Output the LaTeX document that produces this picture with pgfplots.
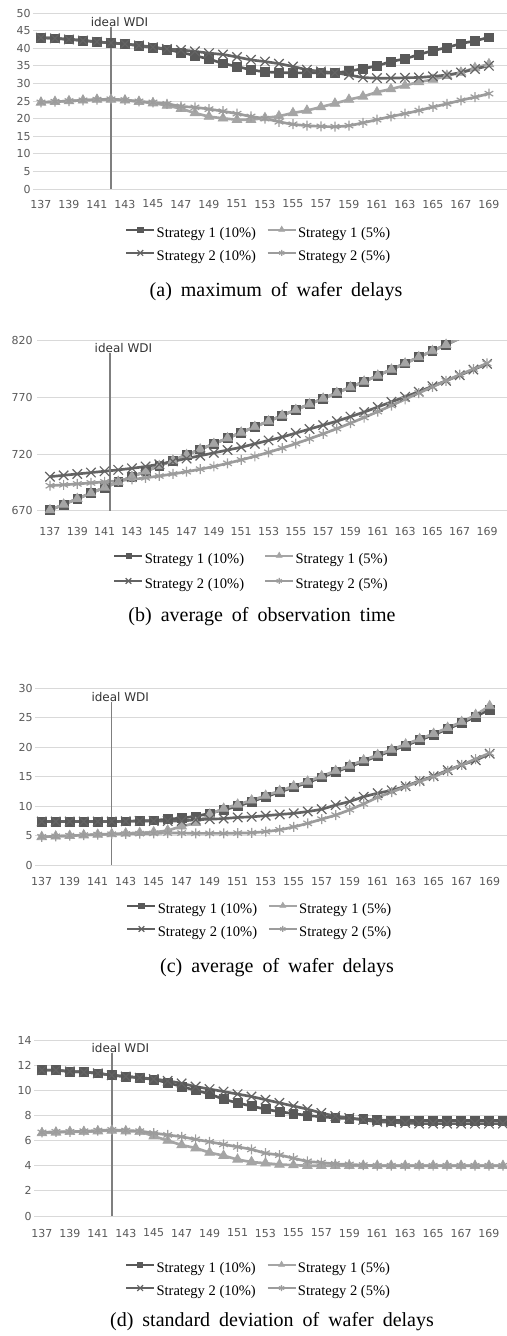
\documentclass[border=0pt]{standalone}
\usepackage{fontspec}
\setmainfont{Liberation Serif}
\newfontfamily\tickfont{DejaVu Sans}
\usepackage{pgfplots}
\usepackage{pgfplotstable}
\pgfplotsset{compat=1.18}

\definecolor{cdark}{HTML}{595959}
\definecolor{clight}{HTML}{A5A5A5}
\definecolor{ccross}{HTML}{636363}
\definecolor{cstar}{HTML}{9C9C9C}
\definecolor{gridc}{HTML}{D9D9D9}
\definecolor{tickc}{HTML}{595959}
\definecolor{idealc}{HTML}{7F7F7F}

% columns: c, strategy 1 (10%), strategy 1 (5%), strategy 2 (10%), strategy 2 (5%)
\pgfplotstableread{
c   sa    sb    sc    sd
137 43.0 24.6 43.0 24.6
138 42.8 24.8 42.8 24.8
139 42.5 25.0 42.5 25.0
140 42.2 25.2 42.2 25.2
141 41.8 25.4 41.8 25.4
142 41.5 25.4 41.5 25.5
143 41.2 25.2 41.2 25.3
144 40.7 24.8 40.8 24.9
145 40.2 24.4 40.3 24.6
146 39.6 23.7 39.8 24.2
147 38.8 22.8 39.5 23.5
148 37.9 21.6 39.1 23.2
149 36.9 20.6 38.6 22.7
150 35.7 20.1 38.2 22.1
151 34.8 19.7 37.5 21.4
152 33.9 19.7 36.7 20.6
153 33.3 20.2 36.2 20.0
154 33.1 20.7 35.6 19.1
155 33.0 21.6 34.8 18.4
156 33.0 22.3 33.9 18.0
157 33.0 23.3 33.4 17.8
158 33.0 24.3 33.0 17.7
159 33.5 25.4 32.4 18.0
160 34.2 26.3 31.7 18.8
161 35.0 27.5 31.5 19.7
162 36.2 28.4 31.5 20.6
163 37.0 29.4 31.6 21.4
164 38.2 30.4 31.7 22.3
165 39.3 31.1 32.0 23.3
166 40.2 32.2 32.4 24.2
167 41.3 33.1 33.1 25.2
168 42.1 34.4 34.1 26.1
169 43.1 35.5 35.0 27.1
}\dataA

\pgfplotstableread{
c   sa    sb    sc    sd
137 670.5 670.5 700.0 692.0
138 675.5 675.5 701.2 692.8
139 680.5 680.5 702.4 693.6
140 685.5 685.5 703.6 694.5
141 690.5 690.5 704.8 695.4
142 695.3 695.3 706.0 696.4
143 700.0 700.0 707.4 697.6
144 704.7 704.7 709.0 699.0
145 709.5 709.5 711.0 700.6
146 714.3 714.3 713.5 702.4
147 719.2 719.2 716.0 704.4
148 724.1 724.1 718.5 706.6
149 729.0 729.0 721.0 709.0
150 734.0 734.0 723.5 711.8
151 739.0 739.0 726.0 714.8
152 744.0 744.0 729.0 718.0
153 749.0 749.0 732.0 721.5
154 754.0 754.0 735.0 725.2
155 759.0 759.0 738.5 729.2
156 764.0 764.0 742.0 733.4
157 769.0 769.0 745.5 737.8
158 774.0 774.0 749.0 742.4
159 779.0 779.0 753.0 747.2
160 784.0 784.0 757.0 752.2
161 789.3 789.3 761.5 757.4
162 794.6 794.6 766.0 762.8
163 800.0 800.0 770.5 768.3
164 805.5 805.5 775.0 773.8
165 811.0 811.0 779.8 779.2
166 816.5 816.5 784.6 784.6
167 822.0 822.0 789.5 790.0
168 827.5 827.5 794.5 795.0
169 833.0 833.0 799.5 800.0
}\dataB

\pgfplotstableread{
c   sa    sb    sc    sd
137 7.4  4.8  7.4  4.8
138 7.4  4.9  7.4  4.9
139 7.4  5.0  7.4  5.0
140 7.4  5.1  7.4  5.1
141 7.4  5.2  7.4  5.2
142 7.4  5.3  7.4  5.25
143 7.45 5.4  7.45 5.3
144 7.5  5.5  7.5  5.35
145 7.6  5.6  7.5  5.4
146 7.8  5.9  7.5  5.45
147 8.0  6.6  7.5  5.45
148 8.3  7.2  7.7  5.4
149 8.8  8.6  7.8  5.4
150 9.4  9.6  7.9  5.4
151 10.0 10.3 8.1  5.45
152 10.8 11.0 8.2  5.5
153 11.6 11.8 8.4  5.7
154 12.4 12.6 8.6  6.0
155 13.2 13.4 8.8  6.5
156 14.0 14.2 9.1  7.1
157 14.9 15.1 9.5  7.8
158 15.8 16.0 10.2 8.5
159 16.7 16.9 10.8 9.4
160 17.6 17.8 11.6 10.4
161 18.5 18.7 12.2 11.5
162 19.4 19.6 12.7 12.4
163 20.3 20.5 13.4 13.3
164 21.2 21.4 14.3 14.2
165 22.1 22.3 15.1 15.0
166 23.1 23.3 16.1 16.0
167 24.1 24.3 17.0 17.0
168 25.2 25.5 17.8 18.0
169 26.4 27.0 18.9 19.0
}\dataC

\pgfplotstableread{
c   sa    sb    sc    sd
137 11.6  6.6  11.6  6.65
138 11.6  6.65 11.6  6.7
139 11.5  6.7  11.5  6.7
140 11.45 6.7  11.45 6.75
141 11.35 6.75 11.35 6.8
142 11.2  6.8  11.2  6.85
143 11.1  6.75 11.1  6.8
144 11.0  6.7  11.0  6.75
145 10.85 6.35 10.9  6.6
146 10.6  6.0  10.75 6.45
147 10.3  5.65 10.55 6.3
148 10.0  5.4  10.3  6.1
149 9.7   5.05 10.1  5.9
150 9.3   4.8  9.9   5.7
151 9.0   4.5  9.7   5.5
152 8.75  4.3  9.5   5.3
153 8.5   4.2  9.25  5.0
154 8.3   4.1  9.0   4.85
155 8.15  4.05 8.75  4.6
156 8.0   4.0  8.5   4.35
157 7.9   4.0  8.2   4.25
158 7.8   4.0  7.95  4.15
159 7.75  4.0  7.8   4.1
160 7.7   4.0  7.65  4.05
161 7.65  4.0  7.5   4.0
162 7.6   4.0  7.45  4.0
163 7.6   4.0  7.4   4.0
164 7.6   4.0  7.35  4.0
165 7.6   4.0  7.35  4.0
166 7.6   4.0  7.35  4.0
167 7.6   4.0  7.35  4.0
168 7.6   4.0  7.35  4.0
169 7.6   4.0  7.35  4.0
170 7.6   4.0  7.35  4.0
}\dataD

\pgfplotsset{
  panel/.style={
    scale only axis,
    axis line style={draw=none},
    major tick length=0pt,
    ymajorgrids,
    major grid style={color=gridc, line width=0.75pt},
    xtick={137,139,...,169},
    /pgf/number format/assume math mode=true,
    /pgf/number format/1000 sep={},
    tick label style={font=\tickfont\fontsize{8.25}{9}\selectfont, text=tickc, inner sep=0pt},
    yticklabel style={anchor=east, xshift=-1.5pt},
    legend columns=2,
    legend cell align=left,
    legend image code/.code={\draw[mark repeat=2, mark phase=2, #1, line width=1.6pt,
      every mark/.append style={scale=0.6}]
      plot coordinates {(0pt,3pt) (10.5pt,3pt) (21pt,3pt)};},
    legend style={draw=none, fill=none, inner sep=0pt, anchor=north west,
      font=\fontsize{10.9}{12}\selectfont,
      nodes={inner sep=0pt, text height=8pt, text depth=2.5pt},
      /tikz/every odd column/.style={column sep=1pt},
      /tikz/every even column/.style={column sep=8pt}},
  },
  sA/.style={color=cdark, line width=2pt, smooth, mark=square*,
    mark options={solid, fill=cdark, draw=cdark, line width=0.5pt, mark size=3.3pt}},
  sB/.style={color=clight, line width=2pt, smooth, mark=triangle*,
    mark options={solid, fill=clight, draw=clight, line width=0.5pt, mark size=4.2pt}},
  sC/.style={color=ccross, line width=2pt, smooth, mark=x,
    mark options={solid, draw=ccross, line width=0.9pt, mark size=5pt}},
  sD/.style={color=cstar, line width=2pt, smooth, mark=asterisk,
    mark options={solid, draw=cstar, line width=0.9pt, mark size=3.75pt}},
  ideal/.style={color=idealc, line width=1.1pt, forget plot, mark=none},
}
\newcommand{\idealnode}[3]{\node[anchor=south, inner sep=0pt, xshift=#3,
  font=\tickfont\fontsize{9}{10}\selectfont, text=black!80] at (axis cs:#1,#2) {ideal WDI};}
\newcommand{\capfont}{\fontsize{15}{17}\selectfont\spaceskip=0.45em plus 0.1em}

\begin{document}
\begin{tikzpicture}
\useasboundingbox (0,0) rectangle (380.25pt,-1002pt);

% (a) maximum of wafer delays
\begin{axis}[panel, at={(24.75pt,-141.75pt)}, anchor=south west,
  width=355.5pt, height=132pt,
  xmin=136.43, xmax=170.29, ymin=0, ymax=50, ytick={0,5,...,50},
  xticklabel style={anchor=center, yshift=-11.25pt},
  legend style={at={(0.194,-0.210)}, /tikz/row sep=7pt}]
\addplot[sA] table[x=c, y=sa] {\dataA};
\addplot[sB] table[x=c, y=sb] {\dataA};
\addplot[sC] table[x=c, y=sc] {\dataA};
\addplot[sD] table[x=c, y=sd] {\dataA};
\addplot[ideal] coordinates {(142,0) (142,46)};
\idealnode{142}{46}{6.4pt}
\legend{Strategy 1 (10\%), Strategy 1 (5\%), Strategy 2 (10\%), Strategy 2 (5\%)}
\end{axis}
\node[font=\capfont] at (207pt,-219pt) {(a) maximum of wafer delays};

% (b) average of observation time
\begin{axis}[panel, at={(27.75pt,-383pt)}, anchor=south west,
  width=352.5pt, height=127.5pt,
  xmin=136.05, xmax=170.46, ymin=670, ymax=820, ytick={670,720,770,820},
  yticklabel style={xshift=-1.5pt},
  xticklabel style={anchor=center, yshift=-15.75pt},
  legend style={at={(0.162,-0.243)}, /tikz/row sep=8.5pt,
    /tikz/every even column/.style={column sep=15pt}}]
\addplot[sA] table[x=c, y=sa] {\dataB};
\addplot[sB] table[x=c, y=sb] {\dataB};
\addplot[sC] table[x=c, y=sc] {\dataB};
\addplot[sD] table[x=c, y=sd] {\dataB};
\addplot[ideal] coordinates {(141.4,670) (141.4,809)};
\idealnode{141.4}{809}{10pt}
\legend{Strategy 1 (10\%), Strategy 1 (5\%), Strategy 2 (10\%), Strategy 2 (5\%)}
\end{axis}
\node[font=\capfont] at (196.5pt,-462.75pt) {(b) average of observation time};

% (c) average of wafer delays
\begin{axis}[panel, at={(26.25pt,-648.9pt)}, anchor=south west,
  width=354pt, height=132.75pt,
  xmin=136.52, xmax=170.24, ymin=0, ymax=30, ytick={0,5,...,30},
  xticklabel style={anchor=center, yshift=-12pt},
  legend style={at={(0.193,-0.208)}, /tikz/row sep=7pt}]
\addplot[sA] table[x=c, y=sa] {\dataC};
\addplot[sB] table[x=c, y=sb] {\dataC};
\addplot[sC] table[x=c, y=sc] {\dataC};
\addplot[sD] table[x=c, y=sd] {\dataC};
\addplot[ideal] coordinates {(142,0) (142,27.7)};
\idealnode{142}{27.7}{6.4pt}
\legend{Strategy 1 (10\%), Strategy 1 (5\%), Strategy 2 (10\%), Strategy 2 (5\%)}
\end{axis}
\node[font=\capfont] at (207.75pt,-726pt) {(c) average of wafer delays};

% (d) standard deviation of wafer delays
\begin{axis}[panel, at={(25.5pt,-912pt)}, anchor=south west,
  width=354.75pt, height=132pt,
  xmin=136.43, xmax=170.29, ymin=0, ymax=14, ytick={0,2,...,14},
  xticklabel style={anchor=center, yshift=-12.75pt},
  legend style={at={(0.192,-0.256)}, /tikz/row sep=7pt}]
\addplot[sA] table[x=c, y=sa] {\dataD};
\addplot[sB] table[x=c, y=sb] {\dataD};
\addplot[sC] table[x=c, y=sc] {\dataD};
\addplot[sD] table[x=c, y=sd] {\dataD};
\addplot[ideal] coordinates {(142,0) (142,13)};
\idealnode{142}{13}{6.4pt}
\legend{Strategy 1 (10\%), Strategy 1 (5\%), Strategy 2 (10\%), Strategy 2 (5\%)}
\end{axis}
\node[font=\capfont] at (204pt,-991.5pt) {(d) standard deviation of wafer delays};
\end{tikzpicture}
\end{document}
